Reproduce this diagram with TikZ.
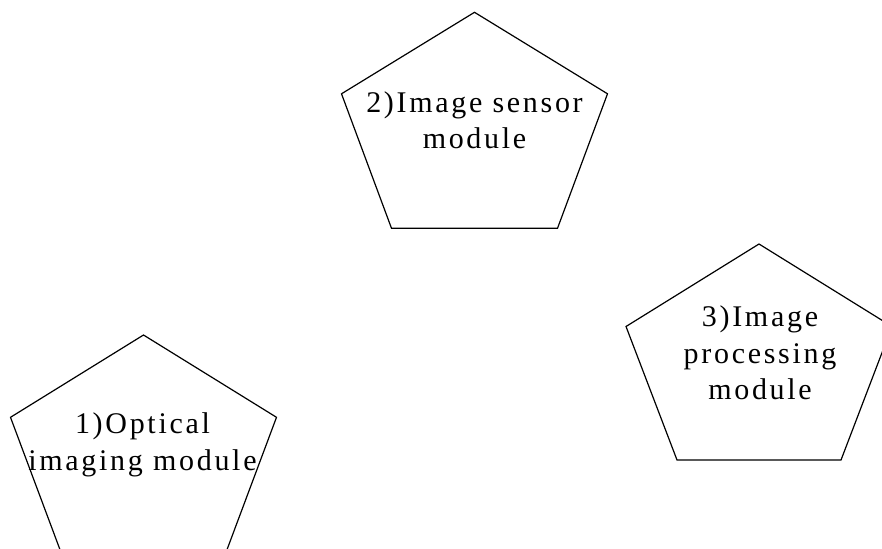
\documentclass[tikz,border=0pt]{standalone}
\usepackage{fontspec}
\setmainfont{Liberation Serif}[LetterSpace=9]
\begin{document}
\begin{tikzpicture}[x=1pt,y=-1pt,
  pent/.style={draw=black,line width=1.2pt,line join=miter},
  label/.style={align=center,inner sep=0pt,font=\fontsize{30}{36.5}\selectfont}]
\useasboundingbox (0,0) rectangle (882,548);
\clip (0,0) rectangle (882,548);
% pentagon 2
\draw[pent] (474.5,12.3) -- (607.5,93.8) -- (557.5,228.3) -- (391.5,228.3) -- (341.5,93.8) -- cycle;
\node[label] (sensor) at (474.5,120) {2)Image sensor\\module};
% pentagon 3
\draw[pent] (759,244) -- (892,326.5) -- (841,460) -- (677,460) -- (626,326.5) -- cycle;
\node[label] (proc) at (760,353) {3)Image\\processing\\module};
% pentagon 1
\draw[pent] (143.5,335) -- (276.5,417.3) -- (226.5,551) -- (60.5,551) -- (10.5,417.3) -- cycle;
\node[label] (optic) at (142.5,445) {1)Optical\\imaging module};
\end{tikzpicture}
\end{document}
